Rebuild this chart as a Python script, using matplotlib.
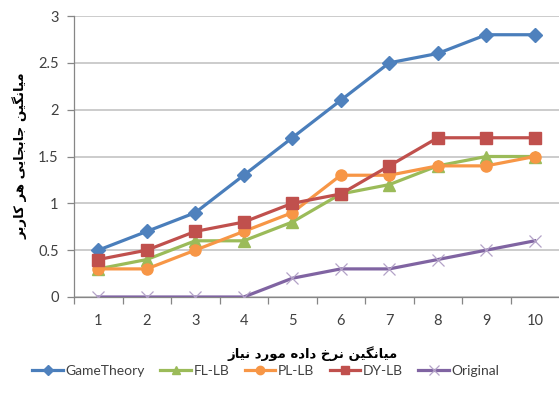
import matplotlib
matplotlib.use("Agg")
import matplotlib.pyplot as plt
from matplotlib.lines import Line2D

categories = [1, 2, 3, 4, 5, 6, 7, 8, 9, 10]
game_theory = [0.5, 0.7, 0.9, 1.3, 1.7, 2.1, 2.5, 2.6, 2.8, 2.8]
fl_lb = [0.3, 0.4, 0.6, 0.6, 0.8, 1.1, 1.2, 1.4, 1.5, 1.5]
pl_lb = [0.3, 0.3, 0.5, 0.7, 0.9, 1.3, 1.3, 1.4, 1.4, 1.5]
dy_lb = [0.4, 0.5, 0.7, 0.8, 1.0, 1.1, 1.4, 1.7, 1.7, 1.7]
original = [0.0, 0.0, 0.0, 0.0, 0.2, 0.3, 0.3, 0.4, 0.5, 0.6]
y_ticks = [0, 0.5, 1, 1.5, 2, 2.5, 3]
y_tick_labels = ["0", "0.5", "1", "1.5", "2", "2.5", "3"]
x_label = "میانگین نرخ داده مورد نیاز"
y_label = "میانگین جابجایی هر کاربر"

# Minimal Persian shaping (isolated, final, initial, medial)
FORMS = {
    "ا": ("\uFE8D", "\uFE8E", None, None),
    "ب": ("\uFE8F", "\uFE90", "\uFE91", "\uFE92"),
    "ج": ("\uFE9D", "\uFE9E", "\uFE9F", "\uFEA0"),
    "خ": ("\uFEA5", "\uFEA6", "\uFEA7", "\uFEA8"),
    "د": ("\uFEA9", "\uFEAA", None, None),
    "ر": ("\uFEAD", "\uFEAE", None, None),
    "ز": ("\uFEAF", "\uFEB0", None, None),
    "م": ("\uFEE1", "\uFEE2", "\uFEE3", "\uFEE4"),
    "ن": ("\uFEE5", "\uFEE6", "\uFEE7", "\uFEE8"),
    "ه": ("\uFEE9", "\uFEEA", "\uFEEB", "\uFEEC"),
    "و": ("\uFEED", "\uFEEE", None, None),
    "ی": ("\uFBFC", "\uFBFD", "\uFBFE", "\uFBFF"),
    "گ": ("\uFB92", "\uFB93", "\uFB94", "\uFB95"),
    "ک": ("\uFB8E", "\uFB8F", "\uFB90", "\uFB91"),
}


def shape(text):
    out = []
    n = len(text)
    for i, ch in enumerate(text):
        if ch not in FORMS:
            out.append(ch)
            continue
        prev = text[i - 1] if i > 0 else None
        nxt = text[i + 1] if i < n - 1 else None
        pj = prev in FORMS and FORMS[prev][2] is not None
        nj = FORMS[ch][2] is not None and nxt in FORMS
        iso, fin, ini, med = FORMS[ch]
        if pj and nj:
            out.append(med)
        elif pj:
            out.append(fin)
        elif nj:
            out.append(ini)
        else:
            out.append(iso)
    return "".join(out)[::-1]


plt.rcParams["font.family"] = ["Lato", "DejaVu Sans"]

fig = plt.figure(figsize=(5.59, 4.09), dpi=100)
ax = fig.add_axes([74 / 559, 1 - 297 / 409, 1 - 74 / 559, (297 - 16) / 409])

series = [
    ("GameTheory", game_theory, "#4A7EBB", "#4F81BD", "D", 7),
    ("FL-LB", fl_lb, "#9BBB59", "#9BBB59", "^", 8),
    ("PL-LB", pl_lb, "#F79646", "#F79646", "o", 8),
    ("DY-LB", dy_lb, "#C0504D", "#C0504D", "s", 8),
    ("Original", original, "#8064A2", "#8064A2", "x", 8.5),
]

for name, vals, lc, mc, mk, ms in series:
    if mk == "x":
        ax.plot(categories, vals, color=lc, lw=2.3, zorder=3, label=name)
        ax.plot(categories, vals, linestyle="none", marker="x", ms=ms,
                mew=0.9, color="#B3A2C7", zorder=4)
    else:
        ax.plot(categories, vals, color=lc, lw=2.3, marker=mk, ms=ms,
                mfc=mc, mec=mc, zorder=3, label=name)

ax.set_xlim(0.5, 10.5)
ax.set_ylim(0, 3)
ax.set_yticks(y_ticks)
ax.set_yticklabels(y_tick_labels)
ax.set_xticks(categories)
ax.set_xticklabels([str(c) for c in categories])
ax.set_xticks([c + 0.5 for c in range(0, 10)], minor=True)
ax.tick_params(axis="x", which="major", length=0, pad=12, labelsize=10.5,
               labelcolor="#404040")
ax.tick_params(axis="x", which="minor", length=5, width=0.9, color="#868686",
               direction="out")
ax.tick_params(axis="y", length=5, width=0.9, color="#868686", direction="out",
               labelsize=10.5, labelcolor="#404040", pad=6)

ax.grid(axis="y", color="#BFBFBF", lw=1.1, zorder=0)
for s in ["top", "right"]:
    ax.spines[s].set_visible(False)
for s in ["left", "bottom"]:
    ax.spines[s].set_color("#868686")
    ax.spines[s].set_linewidth(0.9)
ax.set_axisbelow(True)

fig.text(313 / 559, 1 - 354 / 409, shape(x_label), ha="center", va="center",
         fontsize=9.5, fontweight="bold", family="DejaVu Sans")
fig.text(20 / 559, 1 - 156 / 409, shape(y_label), ha="center", va="center",
         rotation=90, fontsize=9.5, fontweight="bold", family="DejaVu Sans")

handles = []
for name, vals, lc, mc, mk, ms in series:
    if mk == "x":
        h = Line2D([], [], color=lc, lw=2.3, marker="x", ms=6.5, mec="#B3A2C7",
                   mew=0.9)
    else:
        h = Line2D([], [], color=lc, lw=2.3, marker=mk, ms=ms * 0.75,
                   mfc=mc, mec=mc)
    handles.append(h)
fig.legend(handles, [s[0] for s in series], loc="center",
           bbox_to_anchor=(266 / 559, 1 - 371 / 409), ncol=5, frameon=False,
           fontsize=10, handlelength=2.2, handletextpad=0.2,
           columnspacing=1.1, labelcolor="#404040", borderaxespad=0,
           borderpad=0)

fig.savefig("out.png", dpi=100)
